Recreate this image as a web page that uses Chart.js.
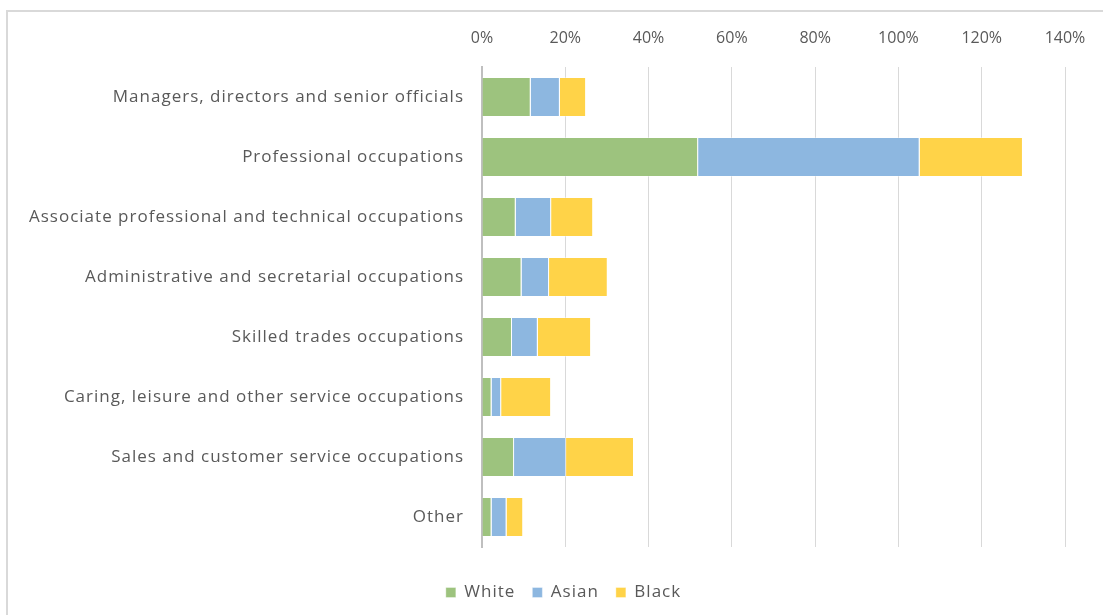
<!DOCTYPE html>
<html>
<head>
<meta charset="utf-8">
<script src="https://cdn.jsdelivr.net/npm/chart.js@4.4.0/dist/chart.umd.min.js"></script>
<style>
  html, body { margin: 0; padding: 0; background: #ffffff; }
  #wrap { position: relative; width: 1103px; height: 615px; overflow: hidden; }
  #frame { position: absolute; left: 6px; top: 10px; width: 1200px; height: 700px;
           border-left: 2px solid #d9d9d9; border-top: 2px solid #d9d9d9; box-sizing: border-box; }
  #c { position: absolute; left: 0; top: 0; }
</style>
</head>
<body>
<div id="wrap">
  <div id="frame"></div>
  <canvas id="c" width="1103" height="615"></canvas>
</div>
<script>
const categories = [
  "Managers, directors and senior officials",
  "Professional occupations",
  "Associate professional and technical occupations",
  "Administrative and secretarial occupations",
  "Skilled trades occupations",
  "Caring, leisure and other service occupations",
  "Sales and customer service occupations",
  "Other"
];
const whiteValues = [11.7, 51.9, 8.1, 9.5, 7.2, 2.3, 7.7, 2.3];
const asianValues = [7.0, 53.2, 8.5, 6.6, 6.2, 2.3, 12.5, 3.6];
const blackValues = [6.3, 24.8, 10.1, 14.1, 12.8, 12.0, 16.3, 4.0];
const xTickValues = [0, 20, 40, 60, 80, 100, 120, 140];

const FONT = "'Open Sans', 'Liberation Sans', sans-serif";
const TXT = "#595959";

const spacingPlugin = {
  id: 'spacing',
  beforeUpdate(chart) { chart.ctx.letterSpacing = '1px'; },
  beforeDraw(chart) { chart.ctx.letterSpacing = '1px'; },
  afterLayout(chart) {
    const lg = chart.legend;
    if (lg) { lg.left += 31; lg.right += 31; lg.top += 2; lg.bottom += 2; }
  }
};

function noSpacingLabels(axis) {
  if (axis._wrapped) return;
  axis._wrapped = true;
  const orig = axis.drawLabels;
  axis.drawLabels = function (area) {
    const ctx = this.ctx;
    const prev = ctx.letterSpacing;
    ctx.letterSpacing = '0px';
    orig.call(this, area);
    ctx.letterSpacing = prev;
  };
}

new Chart(document.getElementById('c'), {
  type: 'bar',
  data: {
    labels: categories,
    datasets: [
      { label: 'White', data: whiteValues, backgroundColor: '#9dc37e', borderColor: 'rgba(255,255,255,0.35)', borderWidth: 1 },
      { label: 'Asian', data: asianValues, backgroundColor: '#8db7e0', borderColor: 'rgba(255,255,255,0.35)', borderWidth: 1 },
      { label: 'Black', data: blackValues, backgroundColor: '#ffd348', borderColor: 'rgba(255,255,255,0.35)', borderWidth: 1 }
    ]
  },
  plugins: [spacingPlugin],
  options: {
    indexAxis: 'y',
    responsive: false,
    animation: false,
    devicePixelRatio: 1,
    layout: { padding: { left: 0, right: 38, top: 0, bottom: 6 } },
    categoryPercentage: 0.67,
    barPercentage: 1.0,
    scales: {
      x: {
        position: 'top',
        stacked: true,
        min: 0, max: 140,
        afterBuildTicks: (axis) => { axis.ticks = xTickValues.map(v => ({ value: v })); },
        afterFit: (axis) => {
          axis.height = 67;
          axis.paddingLeft = 0;
          axis.paddingRight = 0;
          noSpacingLabels(axis);
        },
        ticks: {
          callback: (v) => v + '%',
          color: TXT,
          font: { family: FONT, size: 16 },
          padding: 19
        },
        grid: { color: '#d9d9d9', lineWidth: 1, drawTicks: false },
        border: { display: false }
      },
      xSpacer: {
        type: 'linear',
        position: 'bottom',
        display: true,
        afterFit: (axis) => { axis.height = 18; axis.paddingLeft = 0; axis.paddingRight = 0; },
        ticks: { display: false },
        grid: { display: false, drawTicks: false },
        border: { display: false }
      },
      y: {
        stacked: true,
        afterFit: (axis) => { axis.width = 482; },
        ticks: {
          color: TXT,
          font: { family: FONT, size: 17 },
          padding: 18
        },
        grid: { display: false, drawTicks: false },
        border: { display: true, color: '#bfbfbf', width: 2 }
      }
    },
    plugins: {
      legend: {
        position: 'bottom',
        labels: {
          color: TXT,
          font: { family: FONT, size: 17 },
          boxWidth: 10,
          boxHeight: 10,
          padding: 17
        }
      },
      tooltip: { enabled: false }
    }
  }
});
</script>
</body>
</html>
